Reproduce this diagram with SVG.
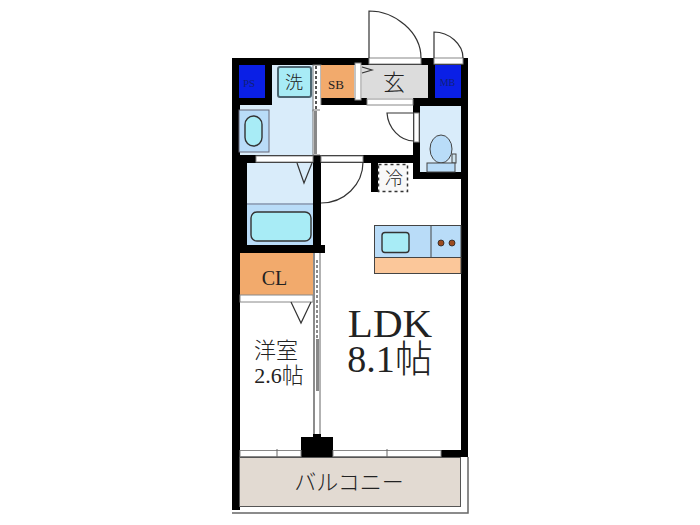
<svg xmlns="http://www.w3.org/2000/svg" width="700" height="525" viewBox="0 0 700 525">
<style>
.w{fill:#000}
.l{fill:none;stroke:#333;stroke-width:1.2}
.s{fill:#fff;stroke:#888;stroke-width:1}
.b{fill:#d9ecfa}
.m{fill:#b9dcf8;stroke:#444;stroke-width:1}
.c{fill:#a8ecf6;stroke:#333;stroke-width:1.4}
.o{fill:#f2aa6c}
.t{font-family:"Liberation Serif","Noto Sans CJK JP",serif;fill:#222;text-anchor:middle}
.j{font-family:"Noto Sans CJK JP","Liberation Serif",sans-serif;font-weight:300;fill:#222;text-anchor:middle}
.k{font-family:"Noto Sans CJK JP",sans-serif;font-weight:300}
</style>
<rect width="700" height="525" fill="#fff"/>
<g id="walls">
<rect class="w" x="232" y="58" width="236" height="7"/>
<rect class="w" x="232" y="58" width="8" height="452"/>
<rect class="w" x="461" y="58" width="7" height="399"/>
<rect class="w" x="232" y="65" width="40" height="40"/>
<rect class="w" x="232" y="155" width="15" height="98"/>
<rect class="w" x="232" y="245" width="93" height="8"/>
<rect class="w" x="313" y="155" width="8" height="100"/>
<rect class="w" x="320" y="98" width="47" height="7"/>
<rect class="w" x="413" y="98" width="55" height="8"/>
<rect class="w" x="428" y="65" width="7" height="40"/>
<rect class="w" x="413" y="98" width="7" height="81"/>
<rect class="w" x="413" y="172" width="55" height="7"/>
<rect class="w" x="240" y="155" width="173" height="8"/>
<rect class="w" x="371" y="155" width="7" height="37"/>
<rect class="w" x="301" y="437" width="32" height="20"/>
<rect class="w" x="313" y="434" width="8" height="4"/>
<rect class="w" x="441" y="450" width="27" height="7"/>
</g>
<g id="room-ps"><rect x="239" y="65" width="26" height="33" fill="#0a1fe6"/><text class="t" x="249" y="87" font-size="11" style="fill:#10207a">PS</text></g>
<g id="room-wash">
<path class="b" d="M272 65H313V155H240V105H272Z"/>
<rect x="278" y="67" width="33" height="30" rx="2" fill="#a8ecf6" stroke="#4c6672" stroke-width="2"/>
<text class="j" x="294" y="89" font-size="18">洗</text>
<rect x="239" y="110" width="30" height="42" fill="#b9dcf8" stroke="#667" stroke-width="1"/>
<rect class="c" x="245" y="116" width="17" height="30" rx="8.500"/>
</g>
<g id="door-wash">
<rect x="313" y="65" width="8" height="46" fill="#fff" stroke="#777"/>
<line x1="316" y1="66" x2="316" y2="110" stroke="#555" stroke-width="2" stroke-dasharray="3 2"/>
<rect x="313" y="110" width="8" height="45" fill="#fff" stroke="#777"/>
<rect x="314" y="111" width="3" height="43" fill="#888"/>
</g>
<g id="room-sb"><rect class="o" x="321" y="65" width="33" height="33"/><text class="t" x="336" y="89" font-size="13">SB</text></g>
<g id="room-genkan">
<rect x="362" y="65" width="66" height="33" fill="#dcdcdc"/>
<rect class="s" x="355" y="63" width="6" height="37"/>
<path class="l" d="M362 67L372 70L362 73" fill="#fff"/>
<text class="j" x="394" y="90" font-size="22">玄</text>
</g>
<g id="room-mb"><rect x="435" y="65" width="26" height="33" fill="#0a1fe6"/><text class="t" x="447.500" y="86" font-size="10" style="fill:#10207a">MB</text></g>
<g id="door-main">
<rect class="s" x="369" y="58" width="52" height="6"/>
<path class="l" d="M369 58V11C395 11 421 32 421 58"/>
</g>
<g id="door-mb">
<rect class="s" x="434" y="58" width="29" height="6"/>
<path class="l" d="M434 58V32C449 32 463 44 463 58"/>
</g>
<g id="hall">
<rect x="320" y="105" width="93" height="50" fill="#fff"/>
<rect class="s" x="367" y="99" width="46" height="6"/>
<rect class="s" x="414" y="113" width="5" height="29"/>
<path class="l" d="M414 113H387C388 128 400 141 414 141"/>
</g>
<g id="room-wc">
<rect class="b" x="420" y="106" width="41" height="66"/>
<rect x="452" y="154" width="4" height="9" fill="#cfe4ee" stroke="#444"/>
<ellipse class="m" cx="441" cy="149" rx="11" ry="14"/>
<rect class="m" x="427" y="163" width="28" height="9"/>
</g>
<g id="room-bath">
<rect class="b" x="247" y="163" width="66" height="40"/>
<rect x="247" y="203" width="66" height="42" fill="#b9dcf8"/>
<line x1="247" y1="204" x2="313" y2="204" stroke="#778" stroke-width="1"/>
<rect class="c" x="251" y="212" width="60" height="29" rx="6"/>
<path class="l" d="M297 163L304 183L312 163" fill="#fff"/>
</g>
<g id="door-bath">
<rect class="s" x="256" y="156" width="57" height="6"/>
<rect class="s" x="321" y="156" width="42" height="6"/>
<path class="l" d="M321 203A42 41 0 0 0 363 162"/>
</g>
<g id="fridge">
<rect x="378.500" y="164.500" width="29" height="27" fill="#f8f8f8" stroke="#333" stroke-width="1.500" stroke-dasharray="3 3"/>
<text class="j" x="394" y="185" font-size="18">冷</text>
</g>
<g id="kitchen">
<rect x="374.500" y="225.500" width="86.500" height="32" fill="#b9dcf8" stroke="#444"/>
<rect x="374.500" y="257.500" width="86.500" height="16" fill="#fbc79a" stroke="#444"/>
<line x1="431" y1="225" x2="431" y2="257" stroke="#444"/>
<rect class="c" x="382" y="232.500" width="27" height="20" rx="3"/>
<circle cx="441" cy="243" r="3" fill="#9c4a1e" stroke="#222" stroke-width=".8"/>
<circle cx="452" cy="243" r="3" fill="#9c4a1e" stroke="#222" stroke-width=".8"/>
</g>
<g id="room-cl">
<rect class="o" x="240" y="253" width="73" height="42"/>
<text class="t" x="274.500" y="285" font-size="20">CL</text>
<rect class="s" x="240" y="295" width="73" height="7"/>
<path class="l" d="M291 302L301 323L311 302" fill="#fff"/>
</g>
<g id="door-sliding">
<rect x="313" y="253" width="8" height="181" fill="#fff"/>
<line x1="314" y1="253" x2="314" y2="434" stroke="#666" stroke-width="1.500"/>
<line x1="320" y1="253" x2="320" y2="434" stroke="#666" stroke-width="1"/>
<line x1="317" y1="260" x2="317" y2="345" stroke="#666" stroke-width="1.500" stroke-dasharray="3 2"/>
<rect x="316" y="339" width="3" height="52" fill="#888"/>
</g>
<g id="room-yoshitsu">
<text class="j" x="276" y="358" font-size="22">洋室</text>
<text class="t" x="279" y="383" font-size="22">2.6<tspan class="k">帖</tspan></text>
</g>
<g id="room-ldk">
<text class="t" x="390" y="337" font-size="41">LDK</text>
<text class="t" x="390" y="372" font-size="38">8.1<tspan class="k">帖</tspan></text>
</g>
<g id="windows">
<rect class="s" x="240" y="450.500" width="61" height="6"/>
<rect class="s" x="333" y="450.500" width="108" height="6"/>
<path d="M277 449V457M387 449V457" stroke="#666" stroke-width="1"/>
</g>
<g id="balcony">
<rect x="239.500" y="457.500" width="221" height="49" fill="#e2dad2" stroke="#555"/>
<path d="M232 513H468V457" fill="none" stroke="#666" stroke-width="1.500"/>
<text class="j" x="349" y="490" font-size="22">バルコニー</text>
</g>
</svg>
